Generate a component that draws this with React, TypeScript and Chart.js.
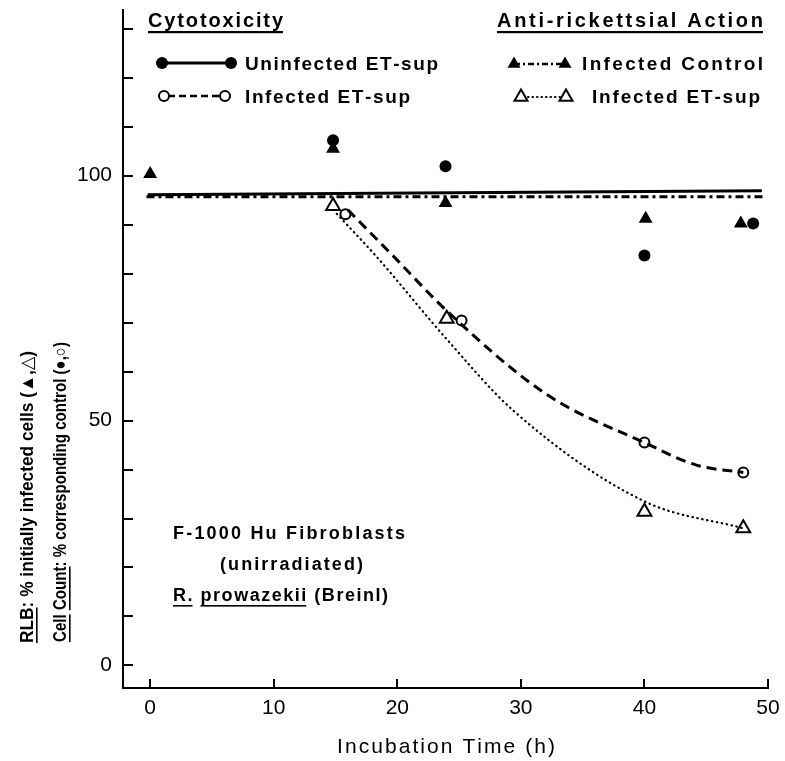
import React, { useEffect, useRef } from "react";
import { Chart, registerables } from "chart.js";

Chart.register(...registerables);

// ---------------- data ----------------
const xTickValues = [0, 10, 20, 30, 40, 50];
const yTickValues = [0, 10, 20, 30, 40, 50, 60, 70, 80, 90, 100, 110, 120, 130];
const yLabelValues = [0, 50, 100];

// Cytotoxicity: uninfected ET-sup (filled circles) + its fitted solid line
const uninfX = [14.8, 23.9, 40.0, 48.8];
const uninfY = [107.2, 101.9, 83.7, 90.2];
const uninfLineX = [-0.2, 49.5];
const uninfLineY = [96.1, 96.9];

// Anti-rickettsial: infected control (filled triangles) + dash-dot line
const ctrlX = [0, 14.8, 23.9, 40.1, 47.8];
const ctrlY = [100.3, 105.5, 94.4, 91.2, 90.2];
const ctrlLineX = [-0.3, 49.6];
const ctrlLineY = [95.7, 95.7];

// Cytotoxicity: infected ET-sup (open circles) + dashed curve
const cytoX = [15.8, 25.2, 40.0, 48.0];
const cytoY = [92.1, 70.4, 45.5, 39.4];
const cytoCurveX = [16.0, 19.7, 24.0, 32.1, 40.0, 44.2, 48.0];
const cytoCurveY = [93.0, 83.5, 72.4, 55.3, 45.5, 40.9, 39.4];

// Anti-rickettsial: infected ET-sup (open triangles) + dotted curve
const rlbX = [14.8, 24.0, 40.0, 48.0];
const rlbY = [93.8, 70.8, 31.4, 28.0];
const rlbCurveX = [15.1, 18.3, 24.0, 29.4, 40.0, 48.0];
const rlbCurveY = [92.2, 83.5, 66.6, 52.0, 33.5, 28.0];

// texts
const legendLeftTitle = "Cytotoxicity";
const legendRightTitle = "Anti-rickettsial Action";
const legendUninfected = "Uninfected ET-sup";
const legendCytoInfected = "Infected ET-sup";
const legendControl = "Infected Control";
const legendRlbInfected = "Infected ET-sup";
const xTitle = "Incubation Time (h)";
const noteLine1 = "F-1000 Hu Fibroblasts";
const noteLine2 = "(unirradiated)";

const X_MIN = -2.2;
const X_MAX = 50;
const Y_MIN = -4.6;
const Y_MAX = 133.8;

const FONT = '"Liberation Sans", "DejaVu Sans", Arial, sans-serif';

type Seg = { text: string; ul?: boolean };

const pts = (xs: number[], ys: number[]) => xs.map((x, i) => ({ x, y: ys[i] }));

function drawRun(
  ctx: CanvasRenderingContext2D,
  segs: Seg[],
  x: number,
  y: number,
  target: number,
  font: string,
  ulOffset = 3,
  ulWidth = 1.6
) {
  ctx.save();
  ctx.font = font;
  const chars = segs.map((s) => Array.from(s.text));
  const widths = chars.map((cs) => cs.map((c) => ctx.measureText(c).width));
  const flat = widths.flat();
  const natural = flat.reduce((a, b) => a + b, 0);
  let sp = 0;
  let scale = 1;
  if (target > 0) {
    if (target >= natural) sp = (target - natural) / Math.max(1, flat.length - 1);
    else scale = target / natural;
  }
  ctx.translate(x, y);
  ctx.scale(scale, 1);
  let cx = 0;
  segs.forEach((s, i) => {
    const start = cx;
    chars[i].forEach((c, j) => {
      ctx.fillText(c, cx, 0);
      cx += widths[i][j] + sp;
    });
    const end = cx - sp;
    if (s.ul) ctx.fillRect(start, ulOffset, end - start, ulWidth);
  });
  ctx.restore();
}

function circle(ctx: CanvasRenderingContext2D, x: number, y: number, r: number, filled: boolean) {
  ctx.beginPath();
  ctx.arc(x, y, r, 0, Math.PI * 2);
  if (filled) {
    ctx.fillStyle = "#000";
    ctx.fill();
  } else {
    ctx.fillStyle = "#fff";
    ctx.fill();
    ctx.lineWidth = 2;
    ctx.strokeStyle = "#000";
    ctx.stroke();
  }
}

function tri(ctx: CanvasRenderingContext2D, x: number, y: number, r: number, filled: boolean) {
  ctx.beginPath();
  ctx.moveTo(x, y - r);
  ctx.lineTo(x + r * 0.866, y + r * 0.5);
  ctx.lineTo(x - r * 0.866, y + r * 0.5);
  ctx.closePath();
  if (filled) {
    ctx.fillStyle = "#000";
    ctx.fill();
  } else {
    ctx.fillStyle = "#fff";
    ctx.fill();
    ctx.lineWidth = 2;
    ctx.strokeStyle = "#000";
    ctx.stroke();
  }
}

function seg(ctx: CanvasRenderingContext2D, x1: number, x2: number, y: number, dash: number[], w: number, cap: CanvasLineCap = "butt") {
  ctx.save();
  ctx.beginPath();
  ctx.setLineDash(dash);
  ctx.lineCap = cap;
  ctx.lineWidth = w;
  ctx.strokeStyle = "#000";
  ctx.moveTo(x1, y);
  ctx.lineTo(x2, y);
  ctx.stroke();
  ctx.restore();
}

const decorPlugin = {
  id: "decor",
  afterDraw(chart: any) {
    const ctx: CanvasRenderingContext2D = chart.ctx;
    const xs = chart.scales.x;
    const ys = chart.scales.y;
    const area = chart.chartArea;
    ctx.save();
    ctx.fillStyle = "#000";
    ctx.strokeStyle = "#000";
    ctx.textBaseline = "alphabetic";
    ctx.textAlign = "left";

    // inward ticks
    ctx.lineWidth = 2;
    yTickValues.forEach((v) => {
      const py = Math.round(ys.getPixelForValue(v));
      ctx.beginPath();
      ctx.moveTo(area.left, py);
      ctx.lineTo(area.left + 10, py);
      ctx.stroke();
    });
    xTickValues.forEach((v) => {
      const px = Math.round(xs.getPixelForValue(v));
      ctx.beginPath();
      ctx.moveTo(px, area.bottom);
      ctx.lineTo(px, area.bottom - 9);
      ctx.stroke();
    });

    // legend headings
    const headFont = `bold 20px ${FONT}`;
    ctx.fillStyle = "#000";
    drawRun(ctx, [{ text: legendLeftTitle, ul: true }], 148, 27, 135, headFont, 4, 2.2);
    drawRun(ctx, [{ text: legendRightTitle, ul: true }], 497, 27, 266, headFont, 4, 2.2);

    const rowFont = `bold 19px ${FONT}`;
    const r1 = 63;
    const r2 = 96;
    // row 1 left: filled circle solid line
    seg(ctx, 162, 231, r1, [], 3);
    circle(ctx, 162, r1, 6, true);
    circle(ctx, 231, r1, 6, true);
    ctx.fillStyle = "#000";
    drawRun(ctx, [{ text: legendUninfected }], 245, r1 + 7, 193, rowFont);
    // row 2 left: open circle dashed
    seg(ctx, 168, 222, r2, [7, 4], 2.5);
    circle(ctx, 164, r2, 5, false);
    circle(ctx, 225, r2, 5, false);
    ctx.fillStyle = "#000";
    drawRun(ctx, [{ text: legendCytoInfected }], 245, r2 + 7, 165, rowFont);
    // row 1 right: filled triangle dash-dot
    seg(ctx, 514, 565, r1 + 1, [6, 3, 2, 3], 2.5);
    tri(ctx, 514, r1 + 1, 7.5, true);
    tri(ctx, 565, r1 + 1, 7.5, true);
    ctx.fillStyle = "#000";
    drawRun(ctx, [{ text: legendControl }], 582, r1 + 7, 181, rowFont);
    // row 2 right: open triangle dotted
    seg(ctx, 528, 560, r2 + 1, [0.5, 4], 2, "round");
    tri(ctx, 521, r2 + 1, 7.5, false);
    tri(ctx, 566, r2 + 1, 7.5, false);
    ctx.fillStyle = "#000";
    drawRun(ctx, [{ text: legendRlbInfected }], 592, r2 + 7, 168, rowFont);

    // notes inside plot
    const noteFont = `bold 18px ${FONT}`;
    drawRun(ctx, [{ text: noteLine1 }], 173, 539, 232, noteFont);
    drawRun(ctx, [{ text: noteLine2 }], 220, 570, 143, noteFont);
    drawRun(
      ctx,
      [{ text: "R.", ul: true }, { text: " " }, { text: "prowazekii", ul: true }, { text: " (Breinl)" }],
      173,
      601,
      215,
      noteFont,
      4,
      1.6
    );

    // x title
    drawRun(ctx, [{ text: xTitle }], 337, 753, 218, `21px ${FONT}`);

    // y titles (rotated)
    const yFont = `bold 18px ${FONT}`;
    ctx.save();
    ctx.translate(33, 643);
    ctx.rotate(-Math.PI / 2);
    drawRun(ctx, [{ text: "RLB", ul: true }, { text: ": % initially infected cells (▲,△)" }], 0, 0, 292, yFont, 3, 1.6);
    ctx.restore();
    ctx.save();
    ctx.translate(66, 642);
    ctx.rotate(-Math.PI / 2);
    drawRun(
      ctx,
      [{ text: "Cell", ul: true }, { text: " " }, { text: "Count", ul: true }, { text: ": % corresponding control (●,○)" }],
      0,
      0,
      300,
      yFont,
      3,
      1.6
    );
    ctx.restore();

    ctx.restore();
  },
};

export default function App() {
  const ref = useRef<HTMLCanvasElement | null>(null);
  useEffect(() => {
    if (!ref.current) return;
    const chart = new Chart(ref.current, {
      type: "line",
      data: {
        datasets: [
          {
            label: "Uninfected ET-sup fit",
            data: pts(uninfLineX, uninfLineY),
            borderColor: "#000",
            borderWidth: 3,
            pointRadius: 0,
            fill: false,
          },
          {
            label: "Infected Control fit",
            data: pts(ctrlLineX, ctrlLineY),
            borderColor: "#000",
            borderWidth: 3,
            borderDash: [8, 4, 3, 4],
            pointRadius: 0,
            fill: false,
          },
          {
            label: "Infected ET-sup (cytotoxicity) fit",
            data: pts(cytoCurveX, cytoCurveY),
            borderColor: "#000",
            borderWidth: 3,
            borderDash: [10, 6],
            cubicInterpolationMode: "monotone",
            pointRadius: 0,
            fill: false,
          },
          {
            label: "Infected ET-sup (RLB) fit",
            data: pts(rlbCurveX, rlbCurveY),
            borderColor: "#000",
            borderWidth: 2.2,
            borderDash: [0.5, 4.5],
            borderCapStyle: "round",
            cubicInterpolationMode: "monotone",
            pointRadius: 0,
            fill: false,
          },
          {
            label: "Uninfected ET-sup",
            data: pts(uninfX, uninfY),
            showLine: false,
            pointStyle: "circle",
            pointRadius: 6,
            pointBackgroundColor: "#000",
            pointBorderColor: "#000",
            pointBorderWidth: 0,
          },
          {
            label: "Infected Control",
            data: pts(ctrlX, ctrlY),
            showLine: false,
            pointStyle: "triangle",
            pointRadius: 8,
            pointBackgroundColor: "#000",
            pointBorderColor: "#000",
            pointBorderWidth: 0,
          },
          {
            label: "Infected ET-sup (cytotoxicity)",
            data: pts(cytoX, cytoY),
            showLine: false,
            pointStyle: "circle",
            pointRadius: 5,
            pointBackgroundColor: "#fff",
            pointBorderColor: "#000",
            pointBorderWidth: 2,
          },
          {
            label: "Infected ET-sup (RLB)",
            data: pts(rlbX, rlbY),
            showLine: false,
            pointStyle: "triangle",
            pointRadius: 8,
            pointBackgroundColor: "#fff",
            pointBorderColor: "#000",
            pointBorderWidth: 2,
          },
        ] as any,
      },
      options: {
        animation: false,
        responsive: false,
        events: [],
        layout: { padding: { left: 0, right: 17, top: 0, bottom: 0 } },
        plugins: { legend: { display: false }, tooltip: { enabled: false } },
        scales: {
          x: {
            type: "linear",
            min: X_MIN,
            max: X_MAX,
            border: { display: true, color: "#000", width: 2 },
            grid: { display: false, drawTicks: false },
            ticks: {
              stepSize: 10,
              includeBounds: false,
              autoSkip: false,
              maxRotation: 0,
              color: "#000",
              padding: 8,
              font: { family: FONT, size: 21 },
            },
            afterFit: (s: any) => {
              s.height = 73;
              s.paddingLeft = 0;
              s.paddingRight = 0;
            },
          },
          y: {
            type: "linear",
            min: Y_MIN,
            max: Y_MAX,
            border: { display: true, color: "#000", width: 2 },
            grid: { display: false, drawTicks: false },
            ticks: {
              stepSize: 10,
              includeBounds: false,
              autoSkip: false,
              color: "#000",
              padding: 11,
              font: { family: FONT, size: 21 },
              callback: (v: any) => (yLabelValues.includes(Number(v)) ? String(v) : null),
            },
            afterFit: (s: any) => {
              s.width = 123;
              s.paddingTop = 0;
              s.paddingBottom = 0;
            },
          },
        },
      } as any,
      plugins: [decorPlugin],
    });
    return () => chart.destroy();
  }, []);
  return (
    <canvas
      ref={ref}
      width={785}
      height={761}
      style={{ position: "fixed", left: 0, top: 0, width: 785, height: 761, display: "block", background: "#fff" }}
    />
  );
}
